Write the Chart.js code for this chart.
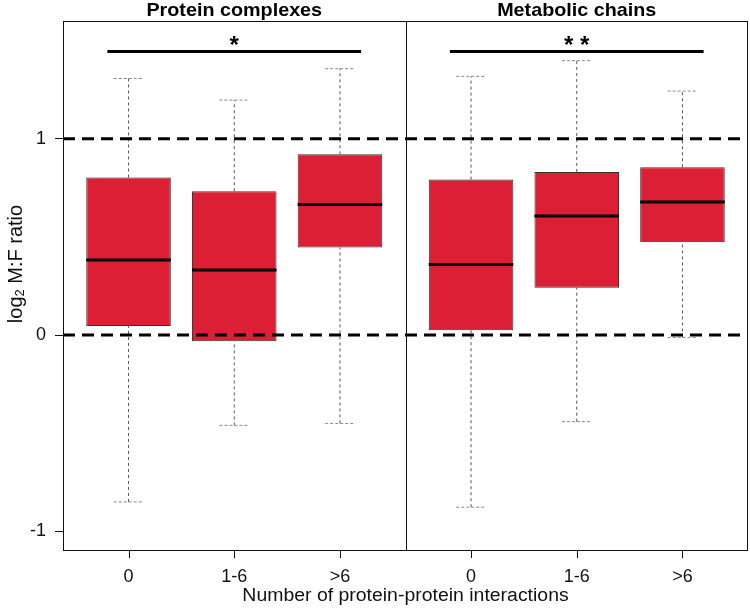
<!DOCTYPE html>
<html>
<head>
<meta charset="utf-8">
<script src="https://cdn.jsdelivr.net/npm/chart.js@4.4.0/dist/chart.umd.min.js"></script>
<style>
  html, body { margin: 0; padding: 0; background: #fff; }
  #wrap { width: 750px; height: 609px; position: relative; }
</style>
</head>
<body>
<div id="wrap"><canvas id="chart" width="750" height="609"></canvas></div>
<script>
const categories = ['0', '1-6', '>6'];
const panelTitles = ['Protein complexes', 'Metabolic chains'];
const significance = ['*', '**'];
const yTicks = [-1, 0, 1];
const refLines = [0, 1];

// Protein complexes: whisker low, Q1, median, Q3, whisker high
const complexLow = [-0.85, -0.46, -0.45];
const complexQ1 = [0.046, -0.031, 0.446];
const complexMedian = [0.382, 0.332, 0.665];
const complexQ3 = [0.803, 0.733, 0.921];
const complexHigh = [1.307, 1.197, 1.357];

// Metabolic chains
const metabolicLow = [-0.877, -0.441, -0.012];
const metabolicQ1 = [0.025, 0.241, 0.473];
const metabolicMedian = [0.36, 0.607, 0.678];
const metabolicQ3 = [0.792, 0.831, 0.855];
const metabolicHigh = [1.318, 1.398, 1.243];

const sigBarY = 1.445;
const starY = 1.5;

const panels = [
  { low: complexLow, q1: complexQ1, med: complexMedian, q3: complexQ3, high: complexHigh },
  { low: metabolicLow, q1: metabolicQ1, med: metabolicMedian, q3: metabolicQ3, high: metabolicHigh },
];

// each panel spans 0.38 .. 3.62 (R style 4% extension), second one shifted
const panelSpan = 3.24;
const xMin = 0.38;
const xMax = xMin + 2 * panelSpan;
const boxHalf = 0.4;
const capHalf = 0.14;
const pos = (p, i) => 1 + i + p * panelSpan;

const boxes = [], medians = [], whiskers = [], caps = [], sigBars = [];
const gap = (x) => ({ x: x, y: null });
panels.forEach((d, p) => {
  categories.forEach((c, i) => {
    const cx = pos(p, i);
    boxes.push({ x: cx, y: [d.q1[i], d.q3[i]] });
    medians.push({ x: cx - boxHalf, y: d.med[i] }, { x: cx + boxHalf, y: d.med[i] }, gap(cx));
    whiskers.push({ x: cx, y: d.low[i] }, { x: cx, y: d.q1[i] }, gap(cx));
    whiskers.push({ x: cx, y: d.q3[i] }, { x: cx, y: d.high[i] }, gap(cx));
    caps.push({ x: cx - capHalf, y: d.low[i] }, { x: cx + capHalf, y: d.low[i] }, gap(cx));
    caps.push({ x: cx - capHalf, y: d.high[i] }, { x: cx + capHalf, y: d.high[i] }, gap(cx));
  });
  sigBars.push({ x: 0.8 + p * panelSpan, y: sigBarY }, { x: 3.2 + p * panelSpan, y: sigBarY }, gap(2));
});

const refData = [];
refLines.forEach(v => refData.push({ x: xMin, y: v }, { x: xMax, y: v }, gap(xMin)));

const tickPositions = [];
panels.forEach((d, p) => categories.forEach((c, i) => tickPositions.push(pos(p, i))));

const font = '"Liberation Sans", Arial, Helvetica, sans-serif';

const lineSet = (data, color, width, dash, order) => ({
  type: 'line', data, borderColor: color, borderWidth: width, borderDash: dash,
  pointRadius: 0, spanGaps: false, fill: false, order, tension: 0,
});

// text slightly wider than the font, like the source figure
function wideText(ctx, text, x, y, sx) {
  ctx.save();
  ctx.translate(x, y);
  ctx.scale(sx, 1);
  ctx.fillText(text, 0, 0);
  ctx.restore();
}

const decorations = {
  id: 'decorations',
  afterDraw(chart) {
    const { ctx, chartArea: a, scales: { x, y } } = chart;
    ctx.save();
    ctx.strokeStyle = '#111';
    ctx.lineWidth = 1;
    ctx.strokeRect(a.left + 0.5, a.top + 0.5, a.right - a.left - 1, a.bottom - a.top - 1);
    const split = Math.round(x.getPixelForValue(xMin + panelSpan)) + 0.5;
    ctx.beginPath();
    ctx.moveTo(split, a.top);
    ctx.lineTo(split, a.bottom);
    // x tick marks
    tickPositions.forEach(v => {
      const px = Math.round(x.getPixelForValue(v)) + 0.5;
      ctx.moveTo(px, a.bottom);
      ctx.lineTo(px, a.bottom + 7);
    });
    ctx.stroke();

    ctx.fillStyle = '#000';
    ctx.textAlign = 'center';
    ctx.textBaseline = 'middle';
    ctx.font = 'bold 19px ' + font;
    panelTitles.forEach((t, p) => wideText(ctx, t, x.getPixelForValue(2 + p * panelSpan), 11, 1.04));

    // significance stars, drawn one by one with a gap
    ctx.font = 'bold 24px ' + font;
    ctx.textBaseline = 'alphabetic';
    const m = ctx.measureText('*');
    const cy = y.getPixelForValue(starY) + (m.actualBoundingBoxAscent - m.actualBoundingBoxDescent) / 2;
    significance.forEach((s, p) => {
      const n = s.length, step = 16;
      const cx = x.getPixelForValue(2 + p * panelSpan);
      for (let k = 0; k < n; k++) ctx.fillText(s[k], cx + (k - (n - 1) / 2) * step, cy);
    });

    // x title
    ctx.font = '18px ' + font;
    ctx.fillStyle = '#111';
    ctx.textBaseline = 'middle';
    wideText(ctx, 'Number of protein-protein interactions', (a.left + a.right) / 2, 596, 1.08);

    // y title with subscript
    ctx.save();
    ctx.translate(16, 264);
    ctx.rotate(-Math.PI / 2);
    ctx.textAlign = 'left';
    ctx.font = '20px ' + font;
    const w1 = ctx.measureText('log').width;
    ctx.font = '13px ' + font;
    const w2 = ctx.measureText('2').width;
    ctx.font = '20px ' + font;
    const w3 = ctx.measureText(' M:F ratio').width;
    let sx = -(w1 + w2 + w3) / 2;
    ctx.fillText('log', sx, 0);
    sx += w1;
    ctx.font = '13px ' + font;
    ctx.fillText('2', sx, 4);
    sx += w2;
    ctx.font = '20px ' + font;
    ctx.fillText(' M:F ratio', sx, 0);
    ctx.restore();
    ctx.restore();
  }
};

new Chart(document.getElementById('chart'), {
  type: 'bar',
  data: {
    datasets: [
      lineSet(refData, '#000', 3, [12, 7], 0),
      lineSet(sigBars, '#000', 3, [], 0),
      lineSet(medians, '#000', 3, [], 1),
      {
        type: 'bar', data: boxes, backgroundColor: '#DC1F35', borderColor: '#333',
        borderWidth: 1, borderSkipped: false, barPercentage: 0.8, categoryPercentage: 1, order: 2,
      },
      lineSet(whiskers, '#555', 1, [3, 3], 3),
      lineSet(caps, '#888', 1, [3, 2], 3),
    ],
  },
  options: {
    responsive: false,
    animation: false,
    devicePixelRatio: 1,
    layout: { padding: { top: 21, right: 2, left: 0, bottom: 0 } },
    plugins: { legend: { display: false }, tooltip: { enabled: false } },
    scales: {
      x: {
        type: 'linear', min: xMin, max: xMax, offset: false,
        afterBuildTicks: (s) => { s.ticks = tickPositions.map(v => ({ value: v })); },
        afterFit: (s) => { s.height = 58; },
        ticks: {
          callback: (v, i) => categories[i % 3], autoSkip: false, maxRotation: 0,
          padding: 7, color: '#111', font: { family: font, size: 18 },
        },
        grid: { display: false },
        border: { display: false },
      },
      y: {
        type: 'linear', min: -1.1, max: 1.6,
        afterBuildTicks: (s) => { s.ticks = yTicks.map(v => ({ value: v })); },
        afterFit: (s) => { s.width = 63; },
        ticks: { padding: 9, color: '#111', font: { family: font, size: 18 } },
        grid: { drawOnChartArea: false, tickLength: 8, color: '#111' },
        border: { display: false },
      },
    },
  },
  plugins: [decorations],
});
</script>
</body>
</html>
